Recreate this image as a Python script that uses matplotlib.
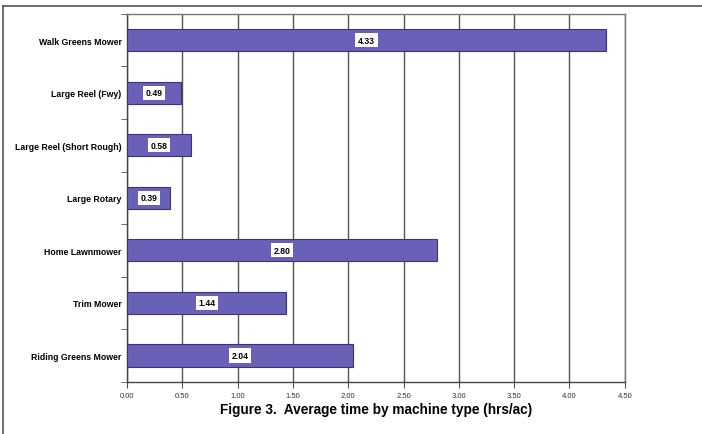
import numpy as np
from matplotlib import pyplot as plt
from matplotlib.lines import Line2D

# 数据
machines = ['Walk Greens Mower', 'Large Reel (Fwy)', 'Large Reel (Short Rough)',
            'Large Rotary', 'Home Lawnmower', 'Trim Mower', 'Riding Greens Mower']
hours = [4.33, 0.49, 0.58, 0.39, 2.80, 1.44, 2.04]
xticks = [0.0, 0.5, 1.0, 1.5, 2.0, 2.5, 3.0, 3.5, 4.0, 4.5]

plt.rcParams['font.family'] = ['Liberation Sans', 'DejaVu Sans']

fig = plt.figure(figsize=(7.02, 4.35), dpi=100)
ax = fig.add_axes([0.181, 0.12, 0.709, 0.846])

y = np.arange(len(machines))
ax.barh(y, hours, height=0.42, color='#6a60b8', edgecolor='#3c3478', linewidth=0.8, zorder=3)

# 数值标签
for yi, v in zip(y, hours):
    ax.text(v / 2, yi, f'{v:.2f}', ha='center', va='center', fontsize=6.2, fontweight='bold',
            zorder=4, bbox=dict(boxstyle='square,pad=0.3', facecolor='white', edgecolor='none'))

ax.set_xlim(0, 4.5)
ax.set_ylim(len(machines) - 0.5, -0.5)
ax.set_xticks(xticks)
ax.set_xticklabels([f'{t:.2f}' for t in xticks], fontsize=5.5, color='#333333')
ax.set_yticks(y)
ax.set_yticklabels(machines, fontsize=6.3, fontweight='bold')
ax.set_yticks(np.arange(len(machines) + 1) - 0.5, minor=True)
ax.tick_params(axis='y', which='major', length=0, pad=4)
ax.tick_params(axis='y', which='minor', length=4, color='#555555')
ax.tick_params(axis='x', length=4, color='#555555', pad=3)

ax.grid(axis='x', color='#555555', linewidth=1.0, zorder=0)
for s in ax.spines.values():
    s.set_color('#777777')
    s.set_linewidth(1.0)
ax.spines['left'].set_color('#444444')
ax.spines['bottom'].set_color('#444444')

fig.text(0.535, 0.057, 'Figure 3.  Average time by machine type (hrs/ac)',
         ha='center', va='center', fontsize=9.8, fontweight='bold')

# 外框
top = 1 - 7 / 435
left = 3 / 702
fig.add_artist(Line2D([left, 1], [top, top], color='#555555', linewidth=1.2))
fig.add_artist(Line2D([left, left], [top, 0], color='#555555', linewidth=1.2))

fig.savefig('out.png', dpi=100, facecolor='white')
